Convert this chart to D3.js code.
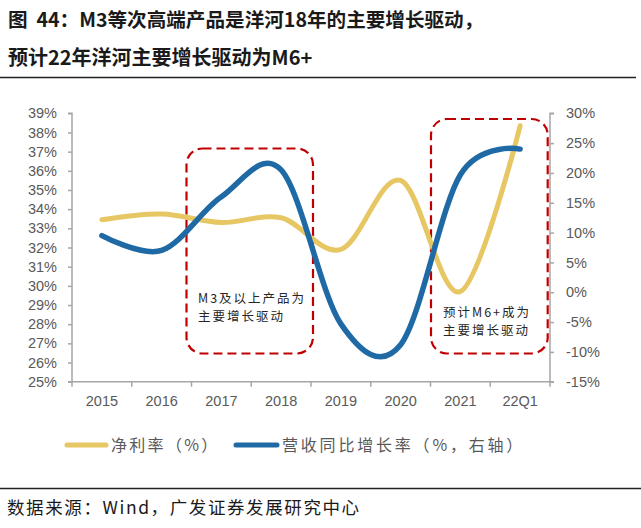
<!DOCTYPE html>
<html><head><meta charset="utf-8">
<script src="https://cdn.jsdelivr.net/npm/d3@7"></script>
<style>
body{margin:0;background:#fff;}
svg{display:block;}
</style></head>
<body>
<svg id="c" width="641" height="528"></svg>
<script>
const categories = ["2015","2016","2017","2018","2019","2020","2021","22Q1"];
const netMargin = [33.45, 33.75, 33.3, 33.55, 31.9, 35.5, 29.7, 38.35];
const revenueGrowth = [9.5, 7.0, 16.0, 20.5, -5.3, -8.8, 19.7, 24.0];
const leftTicks = [25,26,27,28,29,30,31,32,33,34,35,36,37,38,39];
const rightTicks = [-15,-10,-5,0,5,10,15,20,25,30];
const titleLines = ["图\u00a0\u00a044：M3等次高端产品是洋河18年的主要增长驱动，","预计22年洋河主要增长驱动为M6+"];
const legendLabels = ["净利率（%）","营收同比增长率（%，右轴）"];
const annotations = [
  {from:"2017", to:"2018", lines:["M3及以上产品为","主要增长驱动"]},
  {from:"2021", to:"22Q1", lines:["预计M6+成为","主要增长驱动"]}
];
const sourceText = "数据来源：Wind，广发证券发展研究中心";

const svg = d3.select("#c");
const cjk = "'Noto Sans CJK SC','Noto Sans',sans-serif";
const lat = "'Liberation Sans',Arial,sans-serif";
const axisColor = "#a6a6a6", textColor = "#595959";
const yellow = "#e6c763", blue = "#1f6aa5", red = "#c00000";

// title
svg.append("text").attr("x",8).attr("y",27).attr("font-family",cjk).attr("font-weight","bold")
  .attr("font-size",19.6).attr("fill","#1a1a1a").text(titleLines[0]);
svg.append("text").attr("x",8).attr("y",65).attr("font-family",cjk).attr("font-weight","bold")
  .attr("font-size",20).attr("fill","#1a1a1a").text(titleLines[1]);
svg.append("line").attr("x1",0).attr("x2",636).attr("y1",77.5).attr("y2",77.5).attr("stroke","#222").attr("stroke-width",1.5);

const L = 72, R = 550, T = 113.3, B = 381.7;
const x = d3.scaleBand().domain(categories).range([L,R]);
const yL = d3.scaleLinear().domain([25,39]).range([B,T]);
const yR = d3.scaleLinear().domain([-15,30]).range([B,T]);

const fmt = d => d + "%";
const gL = svg.append("g").attr("transform",`translate(${L},0)`)
  .call(d3.axisLeft(yL).tickValues(leftTicks).tickFormat(fmt).tickSize(4).tickPadding(11));
const gR = svg.append("g").attr("transform",`translate(${R},0)`)
  .call(d3.axisRight(yR).tickValues(rightTicks).tickFormat(fmt).tickSize(4).tickPadding(12));
const gX = svg.append("g").attr("transform",`translate(0,${B})`)
  .call(d3.axisBottom(x).tickSize(0).tickPadding(14));
gX.selectAll(".bt").data(categories.concat(["_end"])).enter().append("line")
  .attr("x1",(d,i)=>L+i*x.step()).attr("x2",(d,i)=>L+i*x.step()).attr("y1",0).attr("y2",5)
  .attr("stroke",axisColor).attr("stroke-width",1.5);
[gL,gR,gX].forEach(g=>{
  g.select(".domain").attr("stroke",axisColor).attr("stroke-width",1.5);
  g.selectAll(".tick line").attr("stroke",axisColor).attr("stroke-width",1.5);
  g.selectAll(".tick text").attr("fill",textColor).attr("font-family",lat).attr("font-size",14.5);
});
gL.select(".domain").attr("d",`M-4,${T}H0V${B}H-4`);
gR.select(".domain").attr("d",`M4,${T}H0V${B}H4`);
gX.select(".domain").attr("d",`M${L},0H${R}`);

// annotation boxes
const boxGeom = [{dx0:-5, dx1:2, y0:148.5, y1:353.5},{dx0:0.5, dx1:-2.3, y0:119, y1:353.5}];
annotations.forEach((a,i)=>{
  const g = boxGeom[i];
  const x0 = x(a.from)+g.dx0;
  const x1 = x(a.to)+x.bandwidth()+g.dx1;
  svg.append("rect").attr("x",x0).attr("y",g.y0).attr("width",x1-x0).attr("height",g.y1-g.y0)
    .attr("rx",16).attr("ry",16).attr("fill","none").attr("stroke",red).attr("stroke-width",2.2)
    .attr("stroke-dasharray","9,5");
});
const annPos = [[198,303,321],[443,317,335]];
annotations.forEach((a,i)=>{
  a.lines.forEach((t,j)=>{
    svg.append("text").attr("x",annPos[i][0]).attr("y",annPos[i][1+j]).attr("font-family",cjk)
      .attr("font-size",12.5).attr("letter-spacing",2).attr("fill","#262626").text(t);
  });
});

// lines
const cx = d => x(d)+x.bandwidth()/2;
const lineL = d3.line().x((d,i)=>cx(categories[i])).y(d=>yL(d)).curve(d3.curveCatmullRom.alpha(0));
const lineR = d3.line().x((d,i)=>cx(categories[i])).y(d=>yR(d)).curve(d3.curveCatmullRom.alpha(0));
svg.append("path").attr("d",lineL(netMargin)).attr("fill","none").attr("stroke",yellow).attr("stroke-width",5).attr("stroke-linecap","round");
svg.append("path").attr("d",lineR(revenueGrowth)).attr("fill","none").attr("stroke",blue).attr("stroke-width",5.5).attr("stroke-linecap","round");

// legend
const lg = svg.append("g");
lg.append("line").attr("x1",67).attr("x2",106).attr("y1",445).attr("y2",445).attr("stroke",yellow).attr("stroke-width",5).attr("stroke-linecap","round");
lg.append("text").attr("x",111).attr("y",451).attr("font-family",cjk).attr("font-size",16).attr("letter-spacing",2.3).attr("fill",textColor).text(legendLabels[0]);
lg.append("line").attr("x1",236).attr("x2",277).attr("y1",445).attr("y2",445).attr("stroke",blue).attr("stroke-width",5).attr("stroke-linecap","round");
lg.append("text").attr("x",282).attr("y",451).attr("font-family",cjk).attr("font-size",16).attr("letter-spacing",2.8).attr("fill",textColor).text(legendLabels[1]);

// source
svg.append("line").attr("x1",0).attr("x2",641).attr("y1",488.5).attr("y2",488.5).attr("stroke","#222").attr("stroke-width",1.5);
svg.append("text").attr("x",7).attr("y",514).attr("font-family",cjk).attr("font-size",17.5).attr("letter-spacing",1.6).attr("fill","#1a1a1a").text(sourceText);
</script>
</body></html>
